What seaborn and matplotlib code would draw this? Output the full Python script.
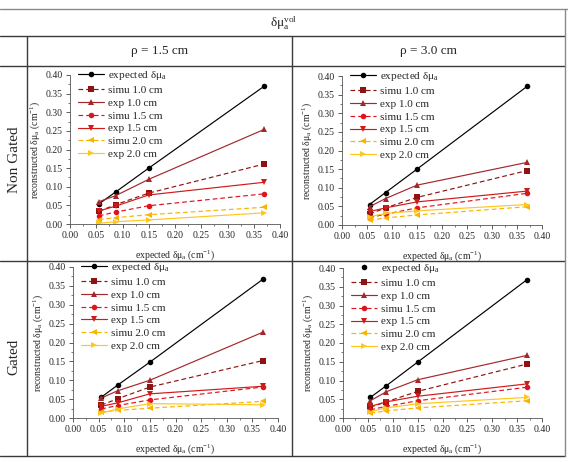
import numpy as np
import pandas as pd
import seaborn as sns
import matplotlib
matplotlib.use("Agg")
import matplotlib.pyplot as plt
from matplotlib.lines import Line2D
from matplotlib.ticker import MultipleLocator, FormatStrFormatter

sns.set_theme(style="ticks")
plt.rcParams["font.family"] = ["Liberation Serif", "DejaVu Serif"]
plt.rcParams["mathtext.fontset"] = "custom"
plt.rcParams["mathtext.rm"] = "Liberation Serif"
plt.rcParams["mathtext.it"] = "Liberation Serif:italic"

# ---------------- data ----------------
expected_x = [0.055, 0.087, 0.15, 0.37]
series_names = ["expected", "simu 1.0 cm", "exp 1.0 cm", "simu 1.5 cm",
                "exp 1.5 cm", "simu 2.0 cm", "exp 2.0 cm"]
row_labels = ["Non Gated", "Gated"]
col_labels = ["ρ = 1.5 cm", "ρ = 3.0 cm"]

# Non gated, rho = 1.5 cm
ng_r15_expected = [0.054, 0.086, 0.150, 0.370]
ng_r15_simu10 = [0.034, 0.052, 0.083, 0.161]
ng_r15_exp10 = [0.060, 0.076, 0.120, 0.254]
ng_r15_simu15 = [0.022, 0.032, 0.049, 0.081]
ng_r15_exp15 = [0.035, 0.048, 0.078, 0.112]
ng_r15_simu20 = [0.012, 0.017, 0.025, 0.045]
ng_r15_exp20 = [0.002, 0.006, 0.011, 0.030]

# Non gated, rho = 3.0 cm
ng_r30_expected = [0.055, 0.087, 0.150, 0.372]
ng_r30_simu10 = [0.029, 0.046, 0.074, 0.146]
ng_r30_exp10 = [0.049, 0.071, 0.107, 0.168]
ng_r30_simu15 = [0.020, 0.029, 0.046, 0.085]
ng_r30_exp15 = [0.036, 0.046, 0.062, 0.091]
ng_r30_simu20 = [0.0125, 0.019, 0.027, 0.049]
ng_r30_exp20 = [0.022, 0.031, 0.038, 0.055]

# Gated, rho = 1.5 cm
g_r15_expected = [0.055, 0.087, 0.148, 0.367]
g_r15_simu10 = [0.034, 0.051, 0.082, 0.152]
g_r15_exp10 = [0.053, 0.072, 0.100, 0.227]
g_r15_simu15 = [0.024, 0.033, 0.048, 0.082]
g_r15_exp15 = [0.031, 0.040, 0.064, 0.084]
g_r15_simu20 = [0.016, 0.020, 0.026, 0.044]
g_r15_exp20 = [0.013, 0.024, 0.038, 0.035]

# Gated, rho = 3.0 cm
g_r30_expected = [0.055, 0.086, 0.149, 0.369]
g_r30_simu10 = [0.029, 0.043, 0.071, 0.144]
g_r30_exp10 = [0.046, 0.070, 0.102, 0.167]
g_r30_simu15 = [0.022, 0.031, 0.046, 0.082]
g_r30_exp15 = [0.031, 0.043, 0.058, 0.091]
g_r30_simu20 = [0.013, 0.019, 0.027, 0.046]
g_r30_exp20 = [0.017, 0.027, 0.038, 0.055]

panels = [
    [ng_r15_expected, ng_r15_simu10, ng_r15_exp10, ng_r15_simu15, ng_r15_exp15, ng_r15_simu20, ng_r15_exp20],
    [ng_r30_expected, ng_r30_simu10, ng_r30_exp10, ng_r30_simu15, ng_r30_exp15, ng_r30_simu20, ng_r30_exp20],
    [g_r15_expected, g_r15_simu10, g_r15_exp10, g_r15_simu15, g_r15_exp15, g_r15_simu20, g_r15_exp20],
    [g_r30_expected, g_r30_simu10, g_r30_exp10, g_r30_simu15, g_r30_exp15, g_r30_simu20, g_r30_exp20],
]

# ---------------- styles ----------------
palette = {"expected": "#000000", "simu 1.0 cm": "#8E1414", "exp 1.0 cm": "#A3282C",
           "simu 1.5 cm": "#E0141E", "exp 1.5 cm": "#CF1A1A",
           "simu 2.0 cm": "#F7B400", "exp 2.0 cm": "#FFC61E"}
dash_map = {"expected": "", "simu 1.0 cm": (4, 2.5), "exp 1.0 cm": "",
            "simu 1.5 cm": (4, 2.5), "exp 1.5 cm": "",
            "simu 2.0 cm": (4, 2.5), "exp 2.0 cm": ""}
marker_map = {"expected": "o", "simu 1.0 cm": "s", "exp 1.0 cm": "^",
              "simu 1.5 cm": "o", "exp 1.5 cm": "v",
              "simu 2.0 cm": "<", "exp 2.0 cm": ">"}

W, H = 568, 462
fig = plt.figure(figsize=(W / 100, H / 100), dpi=100)

# background "table"
bg = fig.add_axes([0, 0, 1, 1], zorder=0)
bg.set_xlim(0, W)
bg.set_ylim(H, 0)
bg.axis("off")
lc = "#3a3a3a"
bg.plot([0, W], [9, 9], color="#8a8a8a", lw=1.0)
for yy in (36, 66, 261, 456):
    bg.plot([0, 565], [yy, yy], color=lc, lw=1.0)
bg.plot([27, 27], [36, 456], color=lc, lw=1.0)
bg.plot([292, 292], [36, 456], color=lc, lw=1.0)
bg.plot([565, 565], [9, 456], color="#8a8a8a", lw=1.0)

bg.text(284, 23, "δμ$_\\mathregular{a}^\\mathregular{vol}$", ha="center", va="center", fontsize=9.5)
bg.text(160, 51, col_labels[0], ha="center", va="center", fontsize=9.5)
bg.text(428, 51, col_labels[1], ha="center", va="center", fontsize=9.5)
bg.text(14, 160, row_labels[0], ha="center", va="center", rotation=90, fontsize=11)
bg.text(14, 357, row_labels[1], ha="center", va="center", rotation=90, fontsize=11)

# axes boxes in pixel coords: (x_left, x_right, y_top, y_bottom)
boxes = [(70, 280, 75, 224), (342, 542, 76, 225), (73, 278, 267, 418), (343, 542, 268, 418)]

lab_exp = "expected δμ$_\\mathregular{a}$"
xlab = "expected δμ$_\\mathregular{a}$ (cm$^\\mathregular{-1}$)"
ylab = "reconstructed δμ$_\\mathregular{a}$ (cm$^\\mathregular{-1}$)"

for i, (box, vals) in enumerate(zip(boxes, panels)):
    xl, xr, yt, yb = box
    ax = fig.add_axes([xl / W, 1 - yb / H, (xr - xl) / W, (yb - yt) / H], zorder=2)
    ax.patch.set_alpha(0)
    rows = []
    for name, yv in zip(series_names, vals):
        for xv, v in zip(expected_x, yv):
            rows.append({"x": xv, "y": v, "series": name})
    df = pd.DataFrame(rows)
    sns.lineplot(data=df, x="x", y="y", hue="series", style="series",
                 hue_order=series_names, style_order=series_names,
                 palette=palette, dashes=dash_map, markers=marker_map,
                 markersize=4, mew=0, lw=0.85, ax=ax, legend=True)
    ax.set_xlim(0, 0.4)
    ax.set_ylim(0, 0.4)
    ax.xaxis.set_major_locator(MultipleLocator(0.05))
    ax.yaxis.set_major_locator(MultipleLocator(0.05))
    ax.xaxis.set_minor_locator(MultipleLocator(0.025))
    ax.yaxis.set_minor_locator(MultipleLocator(0.025))
    ax.xaxis.set_major_formatter(FormatStrFormatter("%.2f"))
    ax.yaxis.set_major_formatter(FormatStrFormatter("%.2f"))
    ax.tick_params(which="major", length=3, width=0.6, labelsize=7, pad=2, color="#444")
    ax.tick_params(which="minor", length=1.5, width=0.5, color="#444")
    for s in ("top", "right"):
        ax.spines[s].set_visible(False)
    for s in ("left", "bottom"):
        ax.spines[s].set_linewidth(0.6)
        ax.spines[s].set_color("#555")
    ax.set_xlabel(xlab, fontsize=7, labelpad=6)
    ax.set_ylabel(ylab, fontsize=7, labelpad=3)

    handles, labels = ax.get_legend_handles_labels()
    labels = [lab_exp if l == "expected" else l for l in labels]
    if i == 3:
        handles[0] = Line2D([], [], color="black", marker="o", linestyle="none", markersize=4, mew=0)
    ax.legend(handles, labels, loc="upper left", bbox_to_anchor=(0.0, 1.09),
              frameon=False, fontsize=8, handlelength=2.4, handletextpad=0.3,
              labelspacing=0.27, borderaxespad=0.3)

fig.savefig("out.png", dpi=100)
